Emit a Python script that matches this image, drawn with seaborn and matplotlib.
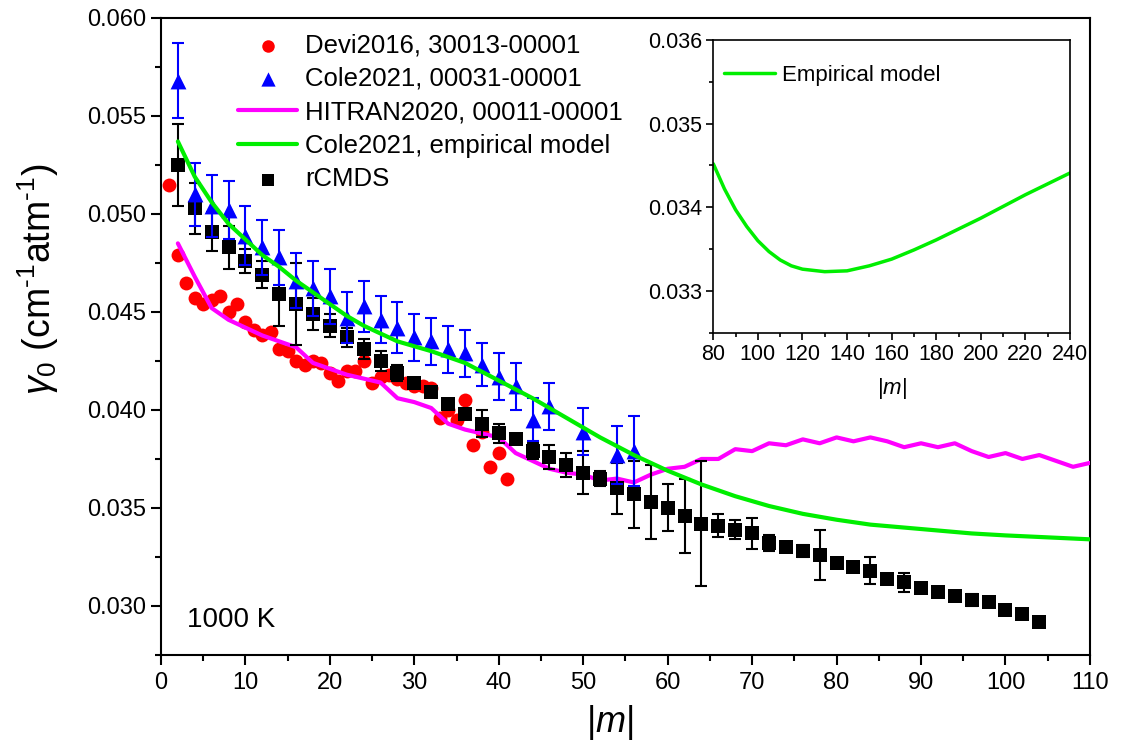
import numpy as np
import matplotlib
matplotlib.use("Agg")
import matplotlib.pyplot as plt
import seaborn as sns
from matplotlib.ticker import MultipleLocator, FormatStrFormatter

# Devi2016, 30013-00001
devi_m = list(range(1, 42))
devi_g = [0.0515, 0.0479, 0.0465, 0.0457, 0.0454, 0.0456, 0.0458, 0.0450, 0.0454, 0.0445,
          0.0441, 0.0438, 0.0440, 0.0431, 0.0430, 0.0425, 0.0423, 0.0425, 0.0424, 0.0419,
          0.0415, 0.0420, 0.0420, 0.0425, 0.0414, 0.0417, 0.0418, 0.0416, 0.0414, 0.0412,
          0.0412, 0.0411, 0.0396, 0.0400, 0.0395, 0.0405, 0.0382, 0.0389, 0.0371, 0.0378,
          0.0365]

# Cole2021, 00031-00001
cole_m = [2, 4, 6, 8, 10, 12, 14, 16, 18, 20, 22, 24, 26, 28, 30, 32, 34, 36, 38, 40,
          42, 44, 46, 50, 54, 56]
cole_g = [0.0568, 0.0510, 0.0504, 0.0502, 0.0489, 0.0483, 0.0478, 0.0466, 0.0462, 0.0458,
          0.0447, 0.0453, 0.0446, 0.0442, 0.0437, 0.0435, 0.0431, 0.0429, 0.0423, 0.0417,
          0.0412, 0.0395, 0.0402, 0.0389, 0.0377, 0.0379]
cole_err = [0.0019, 0.0016, 0.0016, 0.0015, 0.0015, 0.0014, 0.0014, 0.0014, 0.0014, 0.0014,
            0.0013, 0.0013, 0.0012, 0.0013, 0.0012, 0.0012, 0.0012, 0.0012, 0.0011, 0.0012,
            0.0012, 0.0011, 0.0012, 0.0012, 0.0015, 0.0018]

# HITRAN2020, 00011-00001
hitran_m = list(range(2, 111, 2))
hitran_g = [0.0485, 0.0468, 0.0452, 0.0446, 0.0442, 0.0438, 0.0435, 0.0432, 0.0424, 0.0421,
            0.0418, 0.0416, 0.0414, 0.0406, 0.0404, 0.0401, 0.0393, 0.0390, 0.0388, 0.0386,
            0.0378, 0.0374, 0.0370, 0.0368, 0.0367, 0.0364, 0.0365, 0.0363, 0.0367, 0.0370,
            0.0371, 0.0375, 0.0375, 0.0380, 0.0379, 0.0383, 0.0382, 0.0385, 0.0383, 0.0386,
            0.0384, 0.0386, 0.0384, 0.0381, 0.0383, 0.0381, 0.0383, 0.0379, 0.0376, 0.0378,
            0.0375, 0.0377, 0.0374, 0.0371, 0.0373]

# Cole2021, empirical model
model_m = [2, 4, 6, 8, 10, 12, 14, 16, 18, 20, 22, 24, 26, 28, 32, 36, 40, 44, 48, 52,
           56, 60, 64, 68, 72, 76, 80, 84, 88, 92, 96, 100, 104, 110]
model_g = [0.0537, 0.0519, 0.0506, 0.0495, 0.0487, 0.0479, 0.0473, 0.0466, 0.0460, 0.0454,
           0.0448, 0.0443, 0.0439, 0.0435, 0.0430, 0.0424, 0.0415, 0.0406, 0.0396, 0.0386,
           0.0377, 0.0369, 0.0362, 0.0356, 0.0351, 0.0347, 0.0344, 0.03415, 0.0340, 0.03385,
           0.0337, 0.0336, 0.03352, 0.0334]

# rCMDS
cmds_m = list(range(2, 105, 2))
cmds_g = [0.0525, 0.0503, 0.0491, 0.0483, 0.0476, 0.0469, 0.0459, 0.0454, 0.0449, 0.0443,
          0.0437, 0.0431, 0.0425, 0.0419, 0.0414, 0.0409, 0.0403, 0.0398, 0.0393, 0.0388,
          0.0385, 0.0379, 0.0376, 0.0372, 0.0368, 0.0365, 0.0360, 0.0357, 0.0353, 0.0350,
          0.0346, 0.0342, 0.0341, 0.0339, 0.0337, 0.0332, 0.0330, 0.0328, 0.0326, 0.0322,
          0.0320, 0.0318, 0.0314, 0.0312, 0.0309, 0.0307, 0.0305, 0.0303, 0.0302, 0.0298,
          0.0296, 0.0292]
cmds_err = [0.0021, 0.0013, 0.0010, 0.0011, 0.0006, 0.0007, 0.0016, 0.0021, 0.0008, 0.0006,
            0.0005, 0.0005, 0.0005, 0.0004, 0.0002, 0.0002, 0.0002, 0.0002, 0.0007, 0.0005,
            0.0002, 0.0004, 0.0006, 0.0006, 0.0011, 0.0004, 0.0013, 0.0017, 0.0019, 0.0012,
            0.0019, 0.0032, 0.0006, 0.0005, 0.0008, 0.0004, 0.0002, 0.0003, 0.0013, 0.0001,
            0.0001, 0.0007, 0.0001, 0.0005, 0.0001, 0.0001, 0.0001, 0.0003, 0.0001, 0.0001,
            0.0001, 0.0001]

# inset: empirical model to high |m|
inset_m = [80, 85, 90, 95, 100, 105, 110, 115, 120, 130, 140, 150, 160, 170, 180, 190,
           200, 210, 220, 230, 240]
inset_g = [0.03452, 0.03422, 0.03397, 0.03377, 0.03360, 0.03347, 0.03337, 0.03330, 0.03326,
           0.03323, 0.03324, 0.03330, 0.03338, 0.03349, 0.03361, 0.03374, 0.03387, 0.03401,
           0.03415, 0.03428, 0.03441]

sns.set_style("ticks")
plt.rcParams["font.family"] = ["Liberation Sans", "DejaVu Sans"]
plt.rcParams["mathtext.fontset"] = "custom"
plt.rcParams["mathtext.rm"] = "Liberation Sans"
plt.rcParams["mathtext.it"] = "Liberation Sans:italic"
plt.rcParams["mathtext.bf"] = "Liberation Sans:bold"
plt.rcParams["axes.edgecolor"] = "black"
plt.rcParams["xtick.color"] = "black"
plt.rcParams["ytick.color"] = "black"
plt.rcParams["text.color"] = "black"
plt.rcParams["axes.labelcolor"] = "black"

fig = plt.figure(figsize=(11.21, 7.55), dpi=100)
ax = fig.add_axes([0.1436, 0.1325, 0.8287, 0.8437])

sns.scatterplot(x=devi_m, y=devi_g, marker="o", s=100, color="#ff0000", linewidth=0,
                label="Devi2016, 30013-00001", ax=ax, zorder=2)
sns.lineplot(x=hitran_m, y=hitran_g, color="#ff00ff", linewidth=3, sort=False,
             label="HITRAN2020, 00011-00001", ax=ax, zorder=3)
ax.errorbar(cmds_m, cmds_g, yerr=cmds_err, fmt="none", ecolor="black", elinewidth=1.5,
            capsize=4.5, capthick=1.5, zorder=4)
sns.scatterplot(x=cmds_m, y=cmds_g, marker="s", s=90, color="black", linewidth=0,
                label="rCMDS", ax=ax, zorder=5)
ax.errorbar(cole_m, cole_g, yerr=cole_err, fmt="none", ecolor="#0000ff", elinewidth=1.5,
            capsize=4.5, capthick=1.5, zorder=6)
sns.scatterplot(x=cole_m, y=cole_g, marker="^", s=130, color="#0000ff", linewidth=0,
                label="Cole2021, 00031-00001", ax=ax, zorder=7)
sns.lineplot(x=model_m, y=model_g, color="#00ee00", linewidth=3, sort=False,
             label="Cole2021, empirical model", ax=ax, zorder=8)

ax.set_xlim(0, 110)
ax.set_ylim(0.0275, 0.060)
ax.xaxis.set_major_locator(MultipleLocator(10))
ax.xaxis.set_minor_locator(MultipleLocator(5))
ax.yaxis.set_major_locator(MultipleLocator(0.005))
ax.yaxis.set_minor_locator(MultipleLocator(0.0025))
ax.yaxis.set_major_formatter(FormatStrFormatter("%.3f"))
ax.tick_params(which="major", length=7.5, width=1.5, labelsize=17)
ax.tick_params(which="minor", length=4, width=1.5)
ax.tick_params(axis="x", pad=5)
ax.tick_params(axis="y", pad=3)
for sp in ax.spines.values():
    sp.set_linewidth(1.5)
    sp.set_visible(True)

ax.set_xlabel("|$m$|", fontsize=26)
ax.xaxis.set_label_coords(0.483, -0.075)
ax.set_ylabel(r"$\gamma_0$ (cm$^{\text{-1}}$atm$^{\text{-1}}$)", fontsize=27)
ax.yaxis.set_label_coords(-0.108, 0.59)
ax.text(0.028, 0.044, "1000 K", transform=ax.transAxes, fontsize=20, va="baseline")

order = ["Devi2016, 30013-00001", "Cole2021, 00031-00001", "HITRAN2020, 00011-00001",
         "Cole2021, empirical model", "rCMDS"]
handles, labels = ax.get_legend_handles_labels()
lookup = dict(zip(labels, handles))
ax.legend([lookup[k] for k in order], order, loc="upper left", bbox_to_anchor=(0.083, 0.976),
          frameon=False, fontsize=18.5, handlelength=2.3, handletextpad=0.3,
          labelspacing=0.37, borderpad=0, borderaxespad=0, markerscale=0.9)

# inset
ax2 = fig.add_axes([0.6363, 0.5593, 0.3182, 0.3877])
sns.lineplot(x=inset_m, y=inset_g, color="#00ee00", linewidth=2.5, sort=False,
             label="Empirical model", ax=ax2)
ax2.set_xlim(80, 240)
ax2.set_ylim(0.0325, 0.036)
ax2.xaxis.set_major_locator(MultipleLocator(20))
ax2.xaxis.set_minor_locator(MultipleLocator(10))
ax2.yaxis.set_major_locator(MultipleLocator(0.001))
ax2.yaxis.set_minor_locator(MultipleLocator(0.0005))
ax2.yaxis.set_major_formatter(FormatStrFormatter("%.3f"))
ax2.tick_params(which="major", length=5, width=1.2, labelsize=15.5, pad=3)
ax2.tick_params(which="minor", length=3, width=1.2)
for sp in ax2.spines.values():
    sp.set_linewidth(1.2)
    sp.set_visible(True)
ax2.set_xlabel("|$m$|", fontsize=16, labelpad=8)
ax2.set_ylabel("")
ax2.legend(loc="upper left", bbox_to_anchor=(0.03, 0.915), frameon=False, fontsize=16,
           handlelength=2.3, handletextpad=0.3, borderpad=0, borderaxespad=0)

fig.savefig("out.png", dpi=100)
